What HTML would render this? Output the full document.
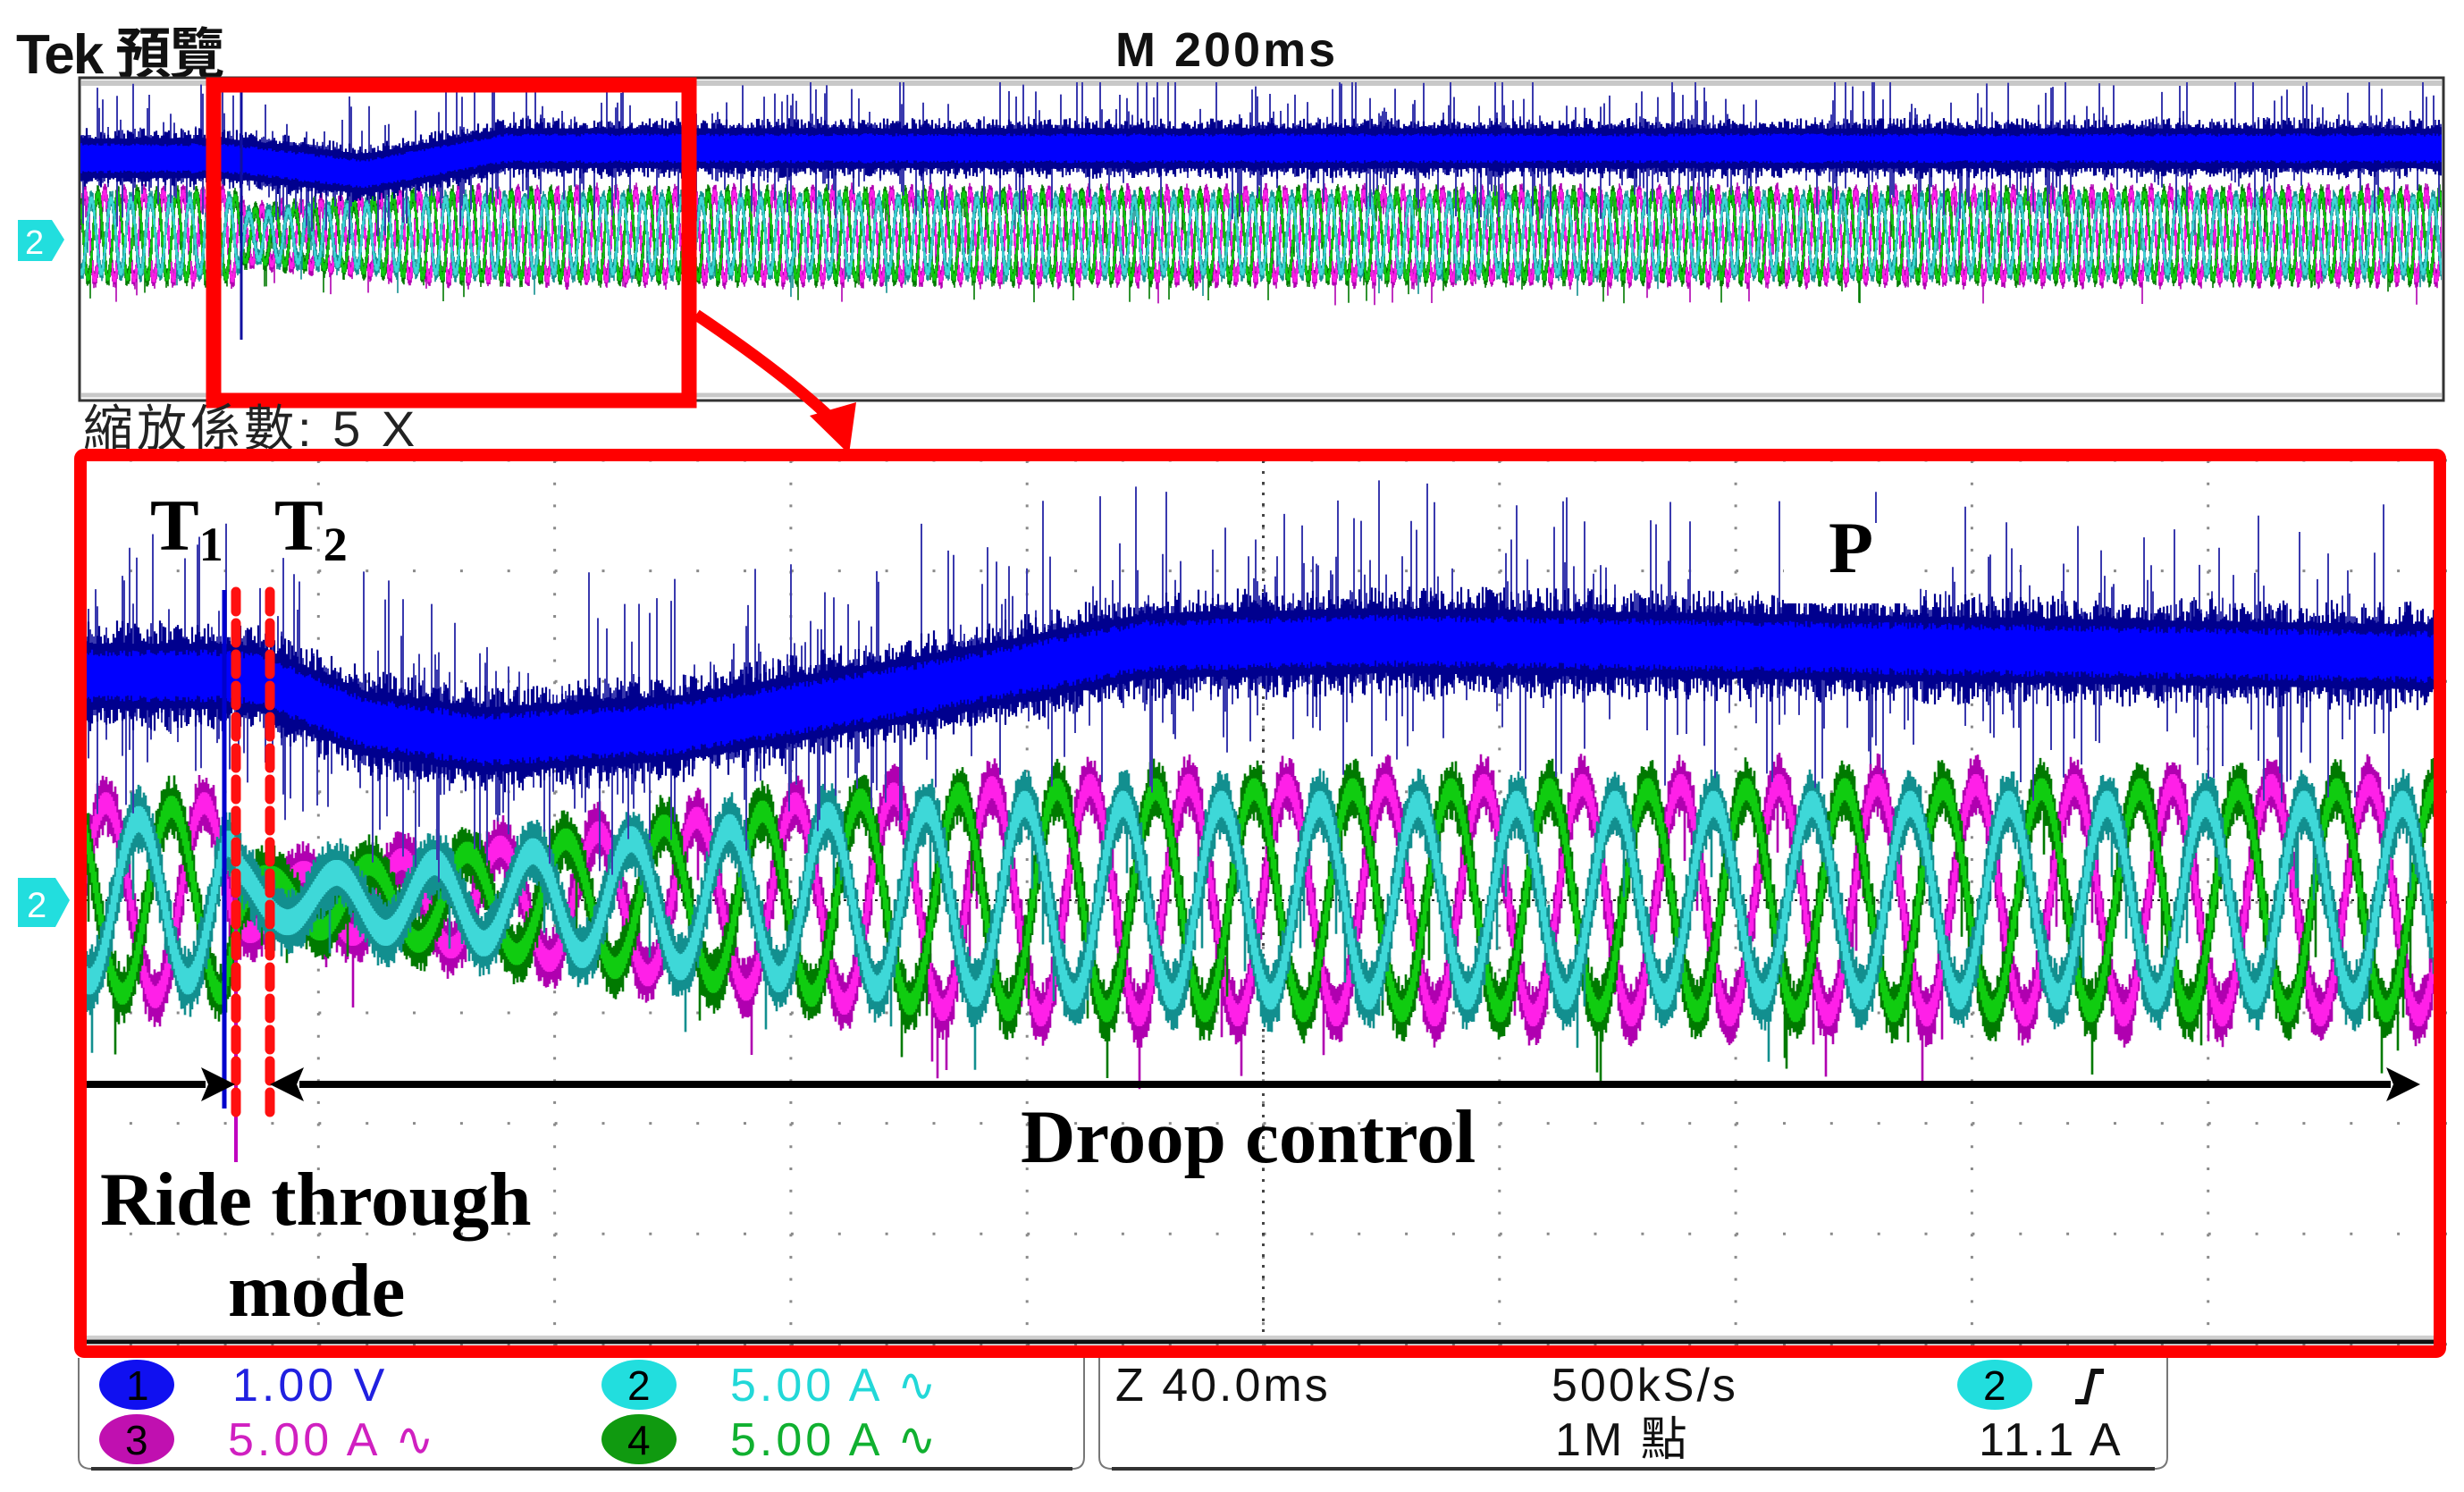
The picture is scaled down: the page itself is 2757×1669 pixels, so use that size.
<!DOCTYPE html>
<html><head><meta charset="utf-8">
<style>
html,body{margin:0;padding:0;background:#fff;}
svg{display:block;}
.lbl{font-family:"Liberation Serif",serif;font-weight:bold;fill:#000;}
.ui{font-family:"Liberation Sans","Noto Sans CJK TC",sans-serif;}
</style></head>
<body>
<svg id="scope" width="2757" height="1669" viewBox="0 0 2757 1669" xmlns="http://www.w3.org/2000/svg">
<defs>
  <clipPath id="mainClip"><rect x="97" y="515" width="2626" height="982"/></clipPath>
  <clipPath id="ovClip"><rect x="90" y="92" width="2642" height="354"/></clipPath>
</defs>

<!-- header -->
<text class="ui" x="18" y="82" font-size="62" font-weight="bold" fill="#111" letter-spacing="-2">Tek 預覽</text>
<text class="ui" x="1248" y="74" font-size="54" font-weight="bold" fill="#111" letter-spacing="3">M 200ms</text>
<polygon points="1398,86 1426,86 1412,102" fill="#f39a1e"/>

<!-- overview window -->
<g>
  <rect x="89" y="87" width="2645" height="361" fill="#fff" stroke="#333" stroke-width="3"/>
  <line x1="91" y1="93" x2="2732" y2="93" stroke="#c8c8c8" stroke-width="6"/>
  <line x1="91" y1="442" x2="2732" y2="442" stroke="#c8c8c8" stroke-width="5"/>
  <g id="ovTraces" clip-path="url(#ovClip)"></g>
</g>
<g>
  <path d="M20,246 L58,246 L72,268 L58,292 L20,292 Z" fill="#22dede"/>
  <text x="28" y="284" class="ui" font-size="38" fill="#fff">2</text>
</g>
<rect x="239" y="95" width="532" height="353" fill="none" stroke="#ff0000" stroke-width="17"/>
<path d="M779,352 Q880,420 932,470" fill="none" stroke="#ff0000" stroke-width="13"/>
<polygon points="950,508 906,465 958,450" fill="#ff0000"/>
<text class="ui" x="93" y="499" font-size="56" fill="#222" letter-spacing="4">縮放係數: 5 X</text>

<!-- main zoomed plot -->
<g>
  <rect x="90" y="508" width="2640" height="1004" fill="#fff"/>
  <g id="grid"></g>
  <g id="mainTraces" clip-path="url(#mainClip)"></g>
  <line x1="97" y1="1496" x2="2723" y2="1496" stroke="#cfcfcf" stroke-width="4"/>
  <line x1="97" y1="1501" x2="2723" y2="1501" stroke="#111" stroke-width="5"/>
</g>
<g>
  <path d="M20,982 L62,982 L78,1007 L62,1037 L20,1037 Z" fill="#22dede"/>
  <text x="30" y="1026" class="ui" font-size="40" fill="#fff">2</text>
</g>

<!-- annotations -->
<rect x="1996" y="585" width="148" height="90" fill="#fff"/>
<text class="lbl" x="2046" y="640" font-size="82">P</text>
<text class="lbl" x="168" y="615" font-size="82">T<tspan font-size="54" dy="12">1</tspan></text>
<text class="lbl" x="307" y="615" font-size="82">T<tspan font-size="54" dy="12">2</tspan></text>
<line x1="264" y1="662" x2="264" y2="1250" stroke="#ff1010" stroke-width="11" stroke-dasharray="22 13" stroke-linecap="round"/>
<line x1="302" y1="662" x2="302" y2="1250" stroke="#ff1010" stroke-width="11" stroke-dasharray="22 13" stroke-linecap="round"/>
<g>
  <line x1="97" y1="1213" x2="230" y2="1213" stroke="#000" stroke-width="8"/>
  <polygon points="263,1213 225,1194 233,1213 225,1232" fill="#000"/>
</g>
<g>
  <line x1="335" y1="1213" x2="2675" y2="1213" stroke="#000" stroke-width="8"/>
  <polygon points="302,1213 340,1194 332,1213 340,1232" fill="#000"/>
  <polygon points="2708,1213 2670,1194 2678,1213 2670,1232" fill="#000"/>
</g>
<text class="lbl" x="1142" y="1300" font-size="85">Droop control</text>
<text class="lbl" x="112" y="1370" font-size="85">Ride through</text>
<text class="lbl" x="255" y="1472" font-size="85">mode</text>

<rect x="90" y="509" width="2640" height="1003" fill="none" stroke="#ff0000" stroke-width="14" rx="4"/>

<!-- status bar -->
<g>
  <path d="M88,1519 L88,1630 Q88,1643 102,1643 L1200,1643 Q1213,1643 1213,1630 L1213,1519" fill="#fff" stroke="#777" stroke-width="2"/>
  <line x1="102" y1="1643" x2="1200" y2="1643" stroke="#333" stroke-width="4"/>
  <ellipse cx="153" cy="1549" rx="42" ry="28" fill="#1010f0"/>
  <text x="141" y="1566" class="ui" font-size="46" fill="#000">1</text>
  <text x="260" y="1567" class="ui" font-size="52" letter-spacing="4" fill="#2020e0">1.00 V</text>
  <ellipse cx="715" cy="1549" rx="42" ry="28" fill="#22dede"/>
  <text x="702" y="1566" class="ui" font-size="46" fill="#000">2</text>
  <text x="817" y="1567" class="ui" font-size="52" letter-spacing="4" fill="#22d8d8">5.00 A ∿</text>
  <ellipse cx="153" cy="1610" rx="42" ry="28" fill="#c010b0"/>
  <text x="140" y="1627" class="ui" font-size="46" fill="#000">3</text>
  <text x="255" y="1628" class="ui" font-size="52" letter-spacing="4" fill="#d020c0">5.00 A ∿</text>
  <ellipse cx="715" cy="1610" rx="42" ry="28" fill="#109a10"/>
  <text x="702" y="1627" class="ui" font-size="46" fill="#000">4</text>
  <text x="817" y="1628" class="ui" font-size="52" letter-spacing="4" fill="#10b030">5.00 A ∿</text>
</g>
<g>
  <path d="M1230,1519 L1230,1630 Q1230,1643 1244,1643 L2411,1643 Q2425,1643 2425,1630 L2425,1519" fill="#fff" stroke="#777" stroke-width="2"/>
  <line x1="1244" y1="1643" x2="2411" y2="1643" stroke="#333" stroke-width="4"/>
  <text x="1248" y="1567" class="ui" font-size="52" letter-spacing="3" fill="#111">Z 40.0ms</text>
  <text x="1736" y="1567" class="ui" font-size="52" letter-spacing="3" fill="#111">500kS/s</text>
  <text x="1740" y="1628" class="ui" font-size="52" letter-spacing="3" fill="#111">1M 點</text>
  <ellipse cx="2232" cy="1549" rx="42" ry="28" fill="#22dede"/>
  <text x="2219" y="1566" class="ui" font-size="46" fill="#000">2</text>
  <path d="M2322,1568 L2334,1568 L2342,1534 L2354,1534" fill="none" stroke="#111" stroke-width="6"/>
  <text x="2214" y="1628" class="ui" font-size="52" letter-spacing="3" fill="#111">11.1 A</text>
</g>
</svg>

<script>
// ---- main plot data (time in divisions, amplitude in vertical divisions) ----
const blueT = [0, 0.6, 0.75, 1.2, 1.7, 2.5, 3.5, 4.5, 5.5, 7, 8.5, 10];
const blueLevel = [2.03, 2.03, 2.0, 1.6, 1.45, 1.55, 1.9, 2.3, 2.35, 2.3, 2.25, 2.2];
const ampT = [0, 0.6, 0.68, 0.8, 1.2, 1.8, 2.5, 3.2, 4, 5, 10];
const ampV = [0.8, 0.8, 0.3, 0.2, 0.3, 0.45, 0.65, 0.85, 0.95, 0.95, 0.95];
const phaseNames = ['magenta', 'green', 'cyan'];
const phaseGain = [1.1, 1.06, 0.92];
const phaseDeg = [0, 240, 120];
const cyclesPerDiv = [2.4];
// ---- overview data ----
const ovBlueT = [0, 0.6, 0.7, 1.2, 1.8, 10];
const ovBlueLevel = [1.95, 1.95, 1.9, 1.55, 2.2, 2.2];
const ovAmpT = [0, 0.65, 0.7, 0.9, 1.5, 10];
const ovAmpV = [1.0, 1.0, 0.6, 0.7, 1.0, 1.0];
const ovCyclesPerDiv = [12];

const NS = 'http://www.w3.org/2000/svg';
const X0 = 92, DIV = 264.3, CY = 1007, VDIV = 123.6;
const OX0 = 90, ODIV = 264.2, OCY = 264, OVDIV = 44.6;
const xOf = d => X0 + d * DIV;
const yOf = v => CY - v * VDIV;
const oyOf = v => OCY - v * OVDIV;

function interp(ts, vs, t) {
  if (t <= ts[0]) return vs[0];
  for (let i = 1; i < ts.length; i++) {
    if (t <= ts[i]) { const f = (t - ts[i-1]) / (ts[i] - ts[i-1]); return vs[i-1] + f * (vs[i] - vs[i-1]); }
  }
  return vs[vs.length - 1];
}
function hash(i, s) { const v = Math.sin(i * 12.9898 + s * 78.233) * 43758.5453; return v - Math.floor(v); }
function mk(tag, attrs, parent) {
  const el = document.createElementNS(NS, tag);
  for (const k in attrs) el.setAttribute(k, attrs[k]);
  parent.appendChild(el);
  return el;
}

// ---- graticule ----
const grid = document.getElementById('grid');
let gd = '';
for (let j = 0; j <= 8; j++) {
  const y = 515 + j * VDIV;
  for (let k = 0; k <= 50; k++) { const x = X0 + k * DIV / 5; gd += `M${x.toFixed(1)},${(y-1.5).toFixed(1)}h3v3h-3z`; }
}
for (let i = 0; i <= 10; i++) {
  const x = xOf(i);
  for (let k = 0; k <= 40; k++) { const y = 515 + k * VDIV / 5; gd += `M${(x-1.5).toFixed(1)},${y.toFixed(1)}h3v3h-3z`; }
}
const gp = mk('path', {d: gd, fill: '#8a8a8a'}, grid);


const cl = mk('line', {x1: 97, y1: CY, x2: 2723, y2: CY, stroke: '#222', 'stroke-width': 2, 'stroke-dasharray': '3 4'}, grid);


const cv = mk('line', {x1: xOf(5), y1: 515, x2: xOf(5), y2: 1497, stroke: '#444', 'stroke-width': 3, 'stroke-dasharray': '3 9'}, grid);



// ---- traces builder ----
function buildCurrents(parent, x0, x1, xToDiv, yMap, aT, aV, cpd, half, jit, step, prefix, seed) {
  const cols = [['#b000b0', '#ff20e8'], ['#007a00', '#10cc10'], ['#128f8f', '#3ed8d8']];
  for (let p = 0; p < 3; p++) {
    const yAt = x => {
      const t = xToDiv(x);
      const a = interp(aT, aV, t) * phaseGain[p];
      return yMap(a * Math.sin(2 * Math.PI * cpd[0] * t - phaseDeg[p] * Math.PI / 180));
    };
    let de = '', dc = '';
    let i = 0;
    for (let x = x0; x <= x1; x += step, i++) {
      const ya = yAt(x), yb = yAt(x + step);
      const lo = Math.min(ya, yb), hi = Math.max(ya, yb);
      const j1 = hash(i, seed + p) * jit, j2 = hash(i, seed + p + 5) * jit;
      const sp = hash(i, seed + p + 9) > 0.97 ? jit * 3 : 0;
      de += `M${x.toFixed(1)},${(lo - half[p] - j1).toFixed(1)}V${(hi + half[p] + j2 + sp).toFixed(1)}`;
      dc += `M${x.toFixed(1)},${(lo - half[p] * 0.6).toFixed(1)}V${(hi + half[p] * 0.6).toFixed(1)}`;
    }
    const edge = mk('path', {d: de, fill: 'none', stroke: cols[p][0], 'stroke-width': step + 0.6}, parent);
    
    
    const core = mk('path', {d: dc, fill: 'none', stroke: cols[p][1], 'stroke-width': step + 0.6}, parent);
    
    
  }
}
function buildBlue(parent, x0, x1, xToDiv, yMap, bT, bV, core, spike, seed, prefix) {
  let ds = '', dd = '', db = '';
  let i = 0;
  for (let x = x0; x <= x1; x += 2, i++) {
    const t = xToDiv(x);
    const y = yMap(interp(bT, bV, t));
    if (hash(i, seed + 13) > 0.45) {
      const up = spike[0] + Math.pow(hash(i, seed), 5) * spike[1];
      const dn = spike[0] + Math.pow(hash(i, seed + 3), 5) * spike[1] * 0.9;
      ds += `M${x},${(y - up).toFixed(1)}V${(y + dn).toFixed(1)}`;
    }
    const h1 = core[0] + Math.pow(hash(i, seed + 7), 2) * core[1];
    const h2 = core[0] + Math.pow(hash(i, seed + 9), 2) * core[1];
    dd += `M${x},${(y - h1).toFixed(1)}V${(y + h2).toFixed(1)}`;
    const b = core[0] * 0.6 + hash(i, seed + 11) * core[1] * 0.3;
    db += `M${x},${(y - b).toFixed(1)}V${(y + b).toFixed(1)}`;
  }
  const s = mk('path', {d: ds, stroke: '#3a3aae', 'stroke-width': 2, fill: 'none'}, parent);
  
  
  const dk = mk('path', {d: dd, stroke: '#00008e', 'stroke-width': 2.2, fill: 'none'}, parent);
  
  
  const br = mk('path', {d: db, stroke: '#0000ff', 'stroke-width': 2.2, fill: 'none'}, parent);
  
  
}

// main traces
const mt = document.getElementById('mainTraces');
buildCurrents(mt, 97, 2723, x => (x - X0) / DIV, yOf, ampT, ampV, cyclesPerDiv, [20, 20, 24], 16, 2, 'main', 21);
buildBlue(mt, 97, 2723, x => (x - X0) / DIV, yOf, blueT, blueLevel, [36, 26], [44, 140], 1, 'main');
const ev = mk('path', {d: 'M251,660V1240', stroke: '#0000cc', 'stroke-width': 5}, mt);


const ev2 = mk('path', {d: 'M264,1000V1300', stroke: '#c000c0', 'stroke-width': 4}, mt);



// overview traces
const ot = document.getElementById('ovTraces');
buildCurrents(ot, 91, 2732, x => (x - OX0) / ODIV, oyOf, ovAmpT, ovAmpV, ovCyclesPerDiv, [5, 5, 5.5], 6, 1, 'overview', 31);
buildBlue(ot, 91, 2732, x => (x - OX0) / ODIV, oyOf, ovBlueT, ovBlueLevel, [22, 12], [26, 60], 5, 'overview');
const oe = mk('path', {d: 'M270,100V380', stroke: '#1010a0', 'stroke-width': 3}, ot);


</script>
</body></html>
